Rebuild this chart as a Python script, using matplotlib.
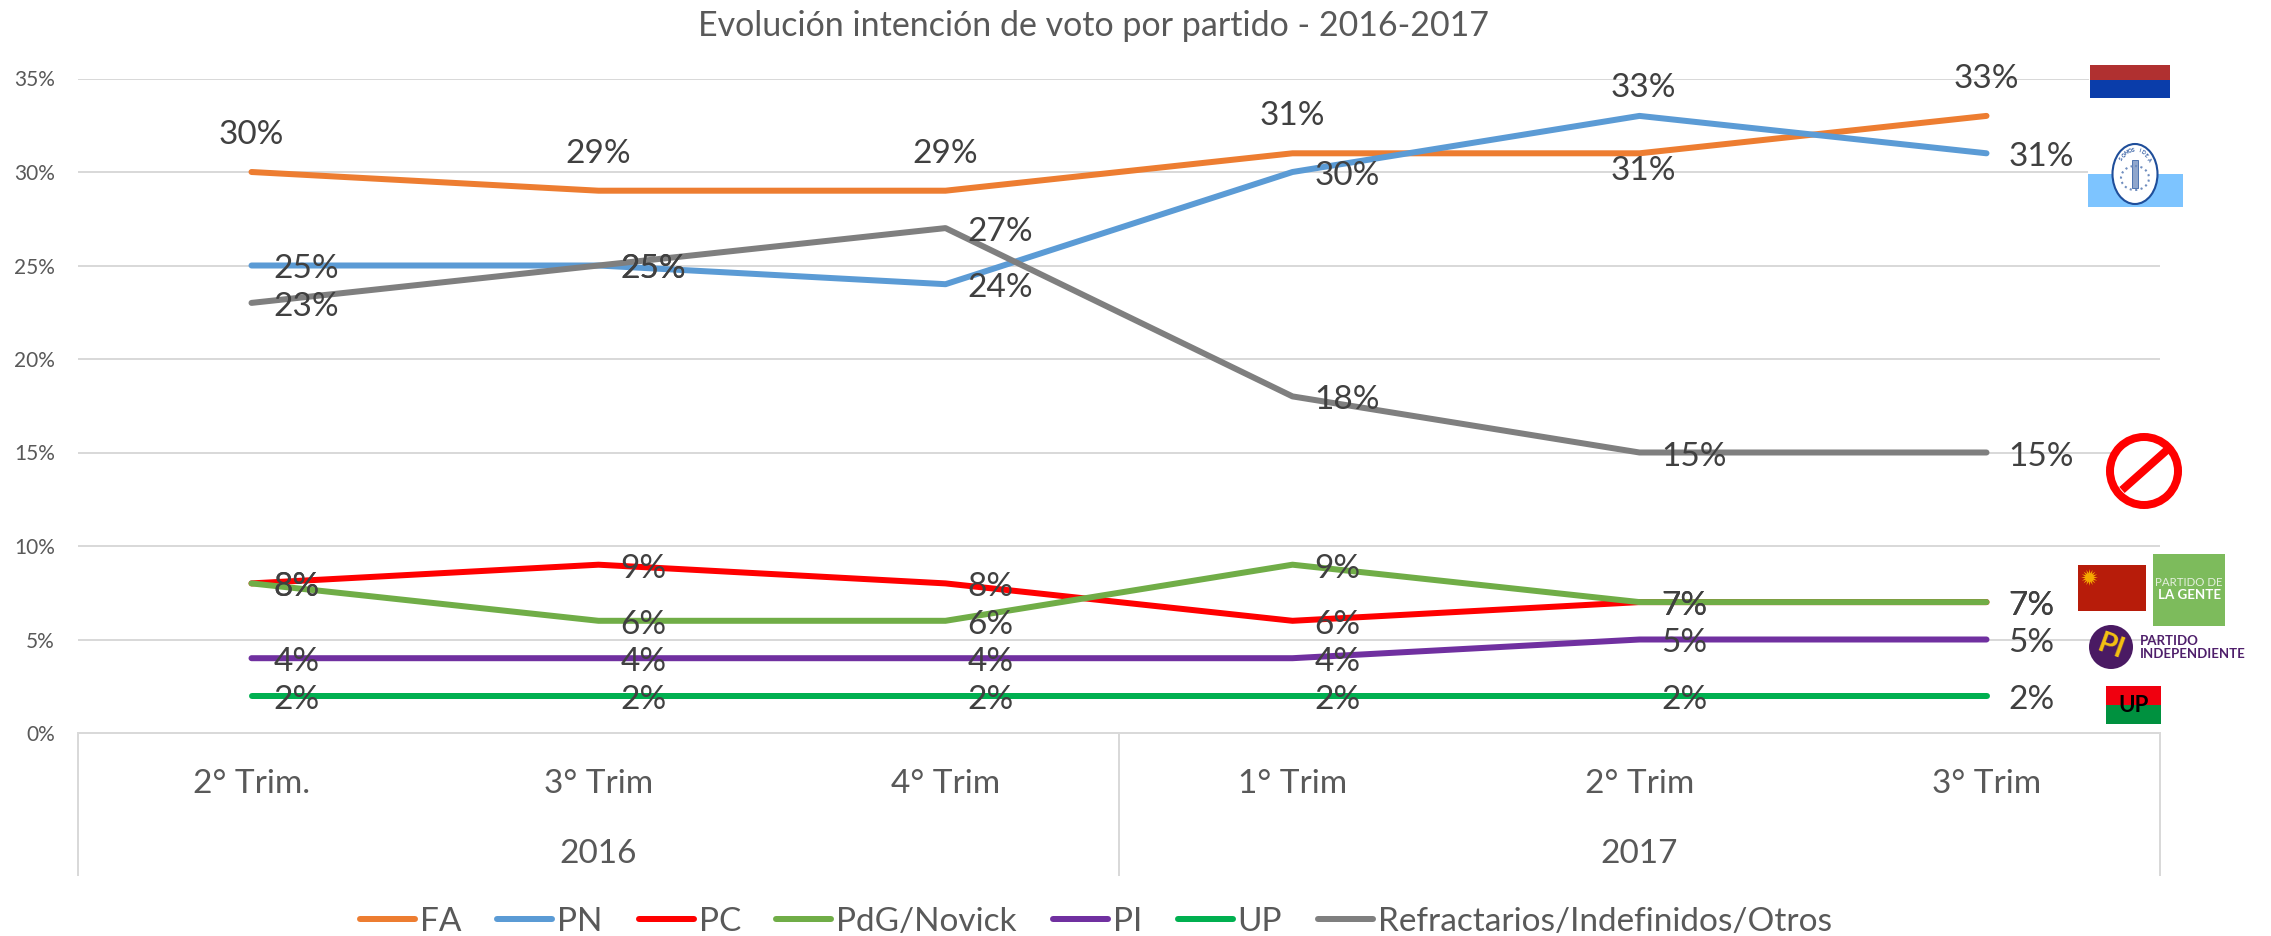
import numpy as np
import matplotlib
matplotlib.use("Agg")
import matplotlib.pyplot as plt
from matplotlib.patches import Rectangle, Circle, Ellipse

plt.rcParams['font.family'] = ['Lato', 'DejaVu Sans']

W, H = 2271, 936

# data
quarters = ["2° Trim.", "3° Trim", "4° Trim", "1° Trim", "2° Trim", "3° Trim"]
years = ["2016", "2017"]
FA = [30, 29, 29, 31, 31, 33]
PN = [25, 25, 24, 30, 33, 31]
PC = [8, 9, 8, 6, 7, 7]
PdG = [8, 6, 6, 9, 7, 7]
PI = [4, 4, 4, 4, 5, 5]
UP = [2, 2, 2, 2, 2, 2]
Otros = [23, 25, 27, 18, 15, 15]
yticks = [0, 5, 10, 15, 20, 25, 30, 35]

series = [
    ("FA", FA, "#ED7D31"),
    ("PN", PN, "#5B9BD5"),
    ("PC", PC, "#FF0000"),
    ("PdG/Novick", PdG, "#70AD47"),
    ("PI", PI, "#7030A0"),
    ("UP", UP, "#00B050"),
    ("Refractarios/Indefinidos/Otros", Otros, "#7F7F7F"),
]

px = 0.72  # pixels to points at dpi 100
fig = plt.figure(figsize=(W / 100, H / 100), dpi=100)
ax = fig.add_axes([78 / W, 1 - 733 / H, (2160 - 78) / W, (733 - 78.5) / H])

x = np.arange(len(quarters))
lines = []
for name, vals, col in series:
    l, = ax.plot(x, vals, color=col, lw=6 * px, solid_capstyle='round', solid_joinstyle='round',
                 label=name, zorder=3, clip_on=False)
    lines.append(l)

# data labels: most sit to the right of the point, FA above
for name, vals, col in series:
    for i, v in enumerate(vals):
        if name == "FA" and i == 4:
            dx, dy, ha = 4, -18, 'center'
        elif name == "FA":
            dx, dy, ha = 0, 37, 'center'
        elif name == "PN" and i == 4:
            dx, dy, ha = 4, 28, 'center'
        else:
            dx, dy, ha = 22, -4, 'left'
        ax.annotate(f"{v}%", (i, v), xytext=(dx * px, dy * px), textcoords='offset points',
                    ha=ha, va='center', fontsize=24, color="#404040", zorder=5, annotation_clip=False)

ax.set_xlim(-0.5, 5.5)
ax.set_ylim(0, 35)
ax.set_yticks(yticks)
ax.set_yticklabels([f"{t}%" for t in yticks])
ax.tick_params(axis='y', length=0, pad=23 * px, labelsize=15, labelcolor="#595959")
ax.grid(axis='y', color="#D9D9D9", lw=2 * px)
ax.set_axisbelow(True)
for s in ax.spines.values():
    s.set_visible(False)

# two level category axis
ax.set_xticks(x)
ax.set_xticklabels(quarters)
ax.tick_params(axis='x', length=0, pad=36 * px, labelsize=24, labelcolor="#595959")
ax.axhline(0, color="#D9D9D9", lw=2 * px, clip_on=False)
for sep in [-0.5, 2.5, 5.5]:
    ax.plot([sep, sep], [0, -7.6], color="#D9D9D9", lw=2 * px, clip_on=False)
for yr, c in zip(years, [1, 4]):
    ax.annotate(yr, (c, 0), xytext=(0, -121 * px), textcoords='offset points', ha='center',
                va='center', fontsize=24, color="#595959", annotation_clip=False)

fig.text(1093 / W, 1 - 26 / H, "Evolución intención de voto por partido - 2016-2017",
         ha='center', va='center', fontsize=24.5, color="#595959")

fig.legend(handles=lines, loc='center', bbox_to_anchor=(1096 / W, 1 - 922 / H), ncol=7, frameon=False,
           fontsize=24, labelcolor="#595959", handlelength=1.65, handletextpad=0.15, columnspacing=1.07)

# party logos, pixel coordinates
lg = fig.add_axes([0, 0, 1, 1], facecolor='none', zorder=6)
lg.set_xlim(0, W)
lg.set_ylim(H, 0)
lg.axis('off')


def box(x0, y0, x1, y1, col, **kw):
    lg.add_patch(Rectangle((x0, y0), x1 - x0, y1 - y0, facecolor=col, edgecolor='none', **kw))


# FA
box(2089, 64, 2171, 116, "white")
box(2090, 65, 2170, 80, "#B03030")
box(2090, 80, 2170, 98, "#0A3DAA")
# PN
box(2088, 142, 2183, 174, "white")
box(2088, 174, 2183, 207, "#7DC4FF")
lg.add_patch(Ellipse((2135, 174), 45, 60, facecolor='white', edgecolor="#1F4E9A", lw=1.5))
lg.add_patch(Rectangle((2132, 160), 6, 28, facecolor="#8FA6CC", edgecolor="#1F4E9A", lw=0.5))
lg.add_patch(Ellipse((2135, 178), 28, 24, facecolor='none', edgecolor="#6F8DBE", lw=1.5, ls=':'))
for ch, a in zip("SOMOS IDEA", np.linspace(-52, 52, 10)):
    t = np.radians(a)
    lg.text(2135 + 17 * np.sin(t), 174 - 24 * np.cos(t), ch, fontsize=3.6, color="#1F4E9A", fontweight='bold',
            ha='center', va='center', rotation=-a)
# prohibido
lg.add_patch(Circle((2144, 471), 34, facecolor='white', edgecolor="#FF0000", lw=8 * px))
lg.plot([2122, 2167], [490, 450], color="#FF0000", lw=8 * px, solid_capstyle='butt')
# PC
box(2078, 565, 2146, 611, "#B71C0A")
lg.plot([2089], [577], marker=(16, 1, 0), ms=12, color="#F5A800", mew=0)
# Partido de la gente
box(2153, 554, 2225, 626, "#7DBB5C")
lg.text(2189, 583, "PARTIDO DE", fontsize=8.3, color="#E4F0DC", ha='center', va='center')
lg.text(2189, 595, "LA GENTE", fontsize=9.6, color="white", fontweight='bold', ha='center', va='center')
# PI
lg.add_patch(Circle((2111, 647), 22, facecolor="#4A1A63", edgecolor='none'))
lg.text(2111, 647, "PI", fontsize=21, color="#F5C211", fontweight='bold', ha='center', va='center', rotation=-20)
lg.text(2140, 641, "PARTIDO", fontsize=9.5, color="#4F1F6B", fontweight='bold', ha='left', va='center')
lg.text(2140, 654, "INDEPENDIENTE", fontsize=9.5, color="#4F1F6B", fontweight='bold', ha='left', va='center')
# UP
box(2106, 686, 2161, 705, "#F0000F")
box(2106, 705, 2161, 724, "#00913F")
lg.text(2134, 705, "UP", fontsize=16, color="black", fontweight='bold', ha='center', va='center')

fig.savefig("out.png", dpi=100)
